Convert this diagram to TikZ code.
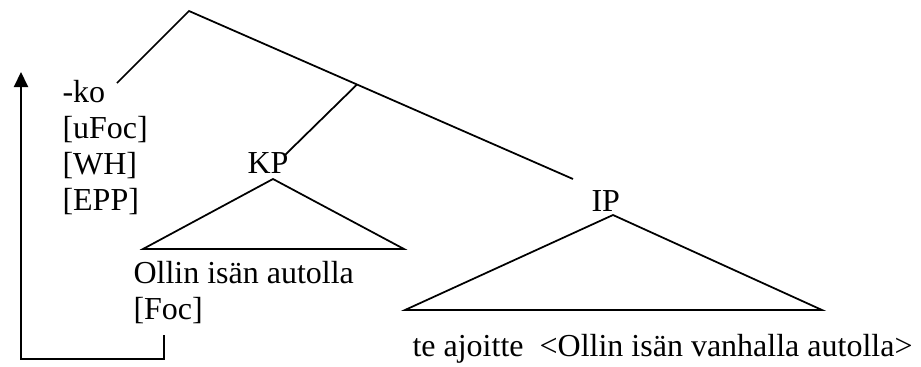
\documentclass[tikz,border=0pt]{standalone}
\usepackage{fontspec}
\setmainfont{Liberation Serif}
\usetikzlibrary{arrows.meta}

\tikzset{
  branch/.style={line width=0.7pt},
  word/.style={anchor=base west, inner sep=0pt, font=\fontsize{12.8}{14.4}\selectfont},
  move/.style={line width=0.8pt, -{Triangle[width=5.6pt,length=6pt]}}
}

\begin{document}
\begin{tikzpicture}[x=0.4pt,y=-0.4pt]
    \useasboundingbox (0,0) rectangle (921,367);
    \coordinate (top) at (189,11);
    \coordinate (koend) at (117,83);
    \coordinate (mid) at (357,84.5);
    \coordinate (ipend) at (573,179);
    \coordinate (kpend) at (285,155);
    \coordinate (kptop) at (273,179);
    \coordinate (kpl) at (143,249);
    \coordinate (kpr) at (404,249);
    \coordinate (iptop) at (613,215);
    \coordinate (ipl) at (405,310);
    \coordinate (ipr) at (822,310);
    \node[word] (ko) at (62,102) {-ko};
    \node[word] (ufoc) at (62,138) {[uFoc]};
    \node[word] (wh) at (62,174) {[WH]};
    \node[word] (epp) at (62,210) {[EPP]};
    \node[word] (kp) at (247,173) {KP};
    \node[word] (ip) at (591,211) {IP};
    \node[word] (olli) at (133,283) {Ollin isän autolla};
    \node[word] (foc) at (133,319) {[Foc]};
    \node[word] (ajo) at (412,356) {te ajoitte\ \ <Ollin isän vanhalla autolla>};
    \coordinate (focfoot) at (164,335);
    \coordinate (low) at (21,359);
    \coordinate (high) at (21,72);
    \draw[branch] (koend) -- (top) -- (ipend);
    \draw[branch] (mid) -- (kpend);
    \draw[branch] (kpl) -- (kptop) -- (kpr) -- cycle;
    \draw[branch] (ipl) -- (iptop) -- (ipr) -- cycle;
    \draw[move] (focfoot) |- (low) -- (high);
\end{tikzpicture}
\end{document}
